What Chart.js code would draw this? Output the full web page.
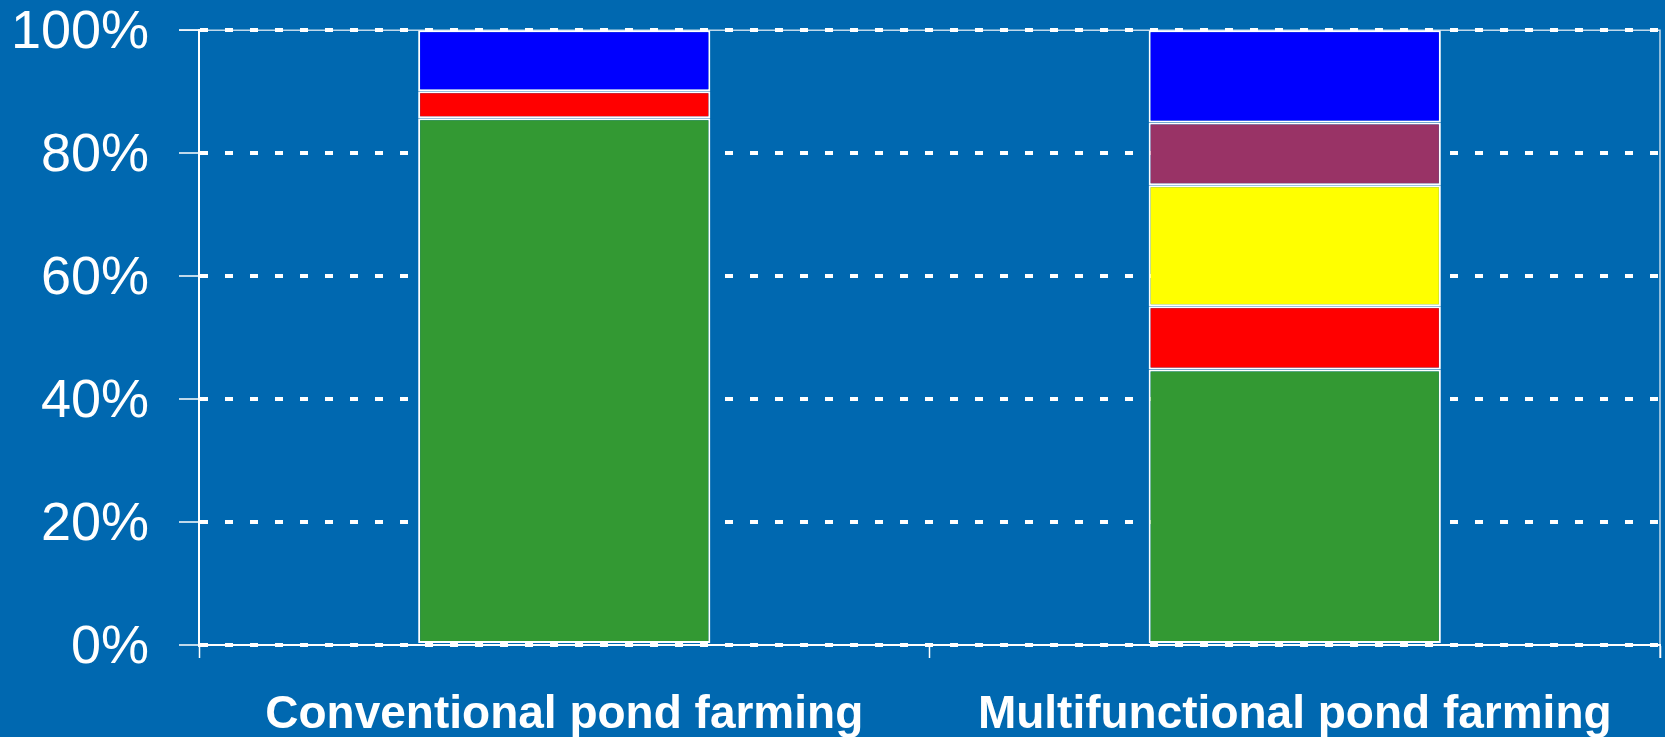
<!DOCTYPE html>
<html lang="en">
<head>
  <meta charset="UTF-8" />
  <title>Pond farming</title>
  <script src="https://cdn.jsdelivr.net/npm/chart.js"></script>
  <style>
    html, body { margin: 0; padding: 0; background: #0068b0; }
    .wrap { width: 1665px; height: 737px; position: relative; }
  </style>
</head>
<body>
  <div class="wrap">
    <canvas id="pondChart"></canvas>
  </div>

  <script>
    // data (percent of total)
    const categories = ['Conventional pond farming', 'Multifunctional pond farming'];
    const greenPart  = [85.7, 44.8];
    const redPart    = [4.4, 10.3];
    const yellowPart = [null, 19.7];
    const purplePart = [null, 10.2];
    const bluePart   = [9.9, 15.0];
    const yTicks = [0, 20, 40, 60, 80, 100];

    const seg = (data, color) => ({
      data,
      backgroundColor: color,
      borderColor: '#ffffff',
      borderWidth: 2,
      borderSkipped: false,
      barPercentage: 0.4,
      categoryPercentage: 1.0
    });

    // thin frame line on top and right of the plot
    const framePlugin = {
      id: 'frame',
      beforeDatasetsDraw(chart) {
        const { ctx, chartArea: a } = chart;
        ctx.save();
        ctx.strokeStyle = 'rgba(255,255,255,0.75)';
        ctx.lineWidth = 1.5;
        ctx.beginPath();
        ctx.moveTo(a.left - 20, a.top);
        ctx.lineTo(a.right, a.top);
        ctx.lineTo(a.right, a.bottom + 13);
        ctx.stroke();
        ctx.restore();
      }
    };

    new Chart(document.getElementById('pondChart'), {
      type: 'bar',
      data: {
        labels: categories,
        datasets: [
          seg(greenPart, '#339933'),
          seg(redPart, '#ff0000'),
          seg(yellowPart, '#ffff00'),
          seg(purplePart, '#993366'),
          seg(bluePart, '#0000ff')
        ]
      },
      options: {
        responsive: true,
        maintainAspectRatio: false,
        animation: false,
        layout: { padding: { top: 0, right: 5, left: 0, bottom: 0 } },
        plugins: { legend: { display: false }, tooltip: { enabled: false } },
        scales: {
          x: {
            stacked: true,
            grid: {
              display: true,
              offset: true,
              drawOnChartArea: false,
              drawTicks: true,
              tickLength: 13,
              tickColor: '#ffffff',
              tickWidth: 1.5
            },
            border: { display: true, color: '#ffffff', width: 2 },
            ticks: {
              color: '#ffffff',
              padding: 34,
              font: { family: 'Liberation Sans, Arial, sans-serif', size: 46, weight: 'bold', lineHeight: 1.0 }
            },
            afterFit(scale) { scale.height = 92; }
          },
          y: {
            stacked: true,
            min: 0,
            max: 100,
            afterBuildTicks(scale) { scale.ticks = yTicks.map(v => ({ value: v })); },
            grid: {
              color: '#ffffff',
              lineWidth: 4,
              drawTicks: true,
              tickLength: 20,
              tickColor: '#ffffff',
              tickWidth: 1.5,
              tickBorderDash: []
            },
            border: { display: true, color: '#ffffff', width: 2, dash: [8, 17] },
            ticks: {
              color: '#ffffff',
              padding: 30,
              labelOffset: 3,
              // tiny line height keeps the label gap from pushing the plot down
              font: { family: 'Liberation Sans, Arial, sans-serif', size: 54, lineHeight: 0.01 },
              callback: v => v + '%'
            },
            afterFit(scale) { scale.width = 199; }
          }
        }
      },
      plugins: [framePlugin]
    });
  </script>
</body>
</html>
